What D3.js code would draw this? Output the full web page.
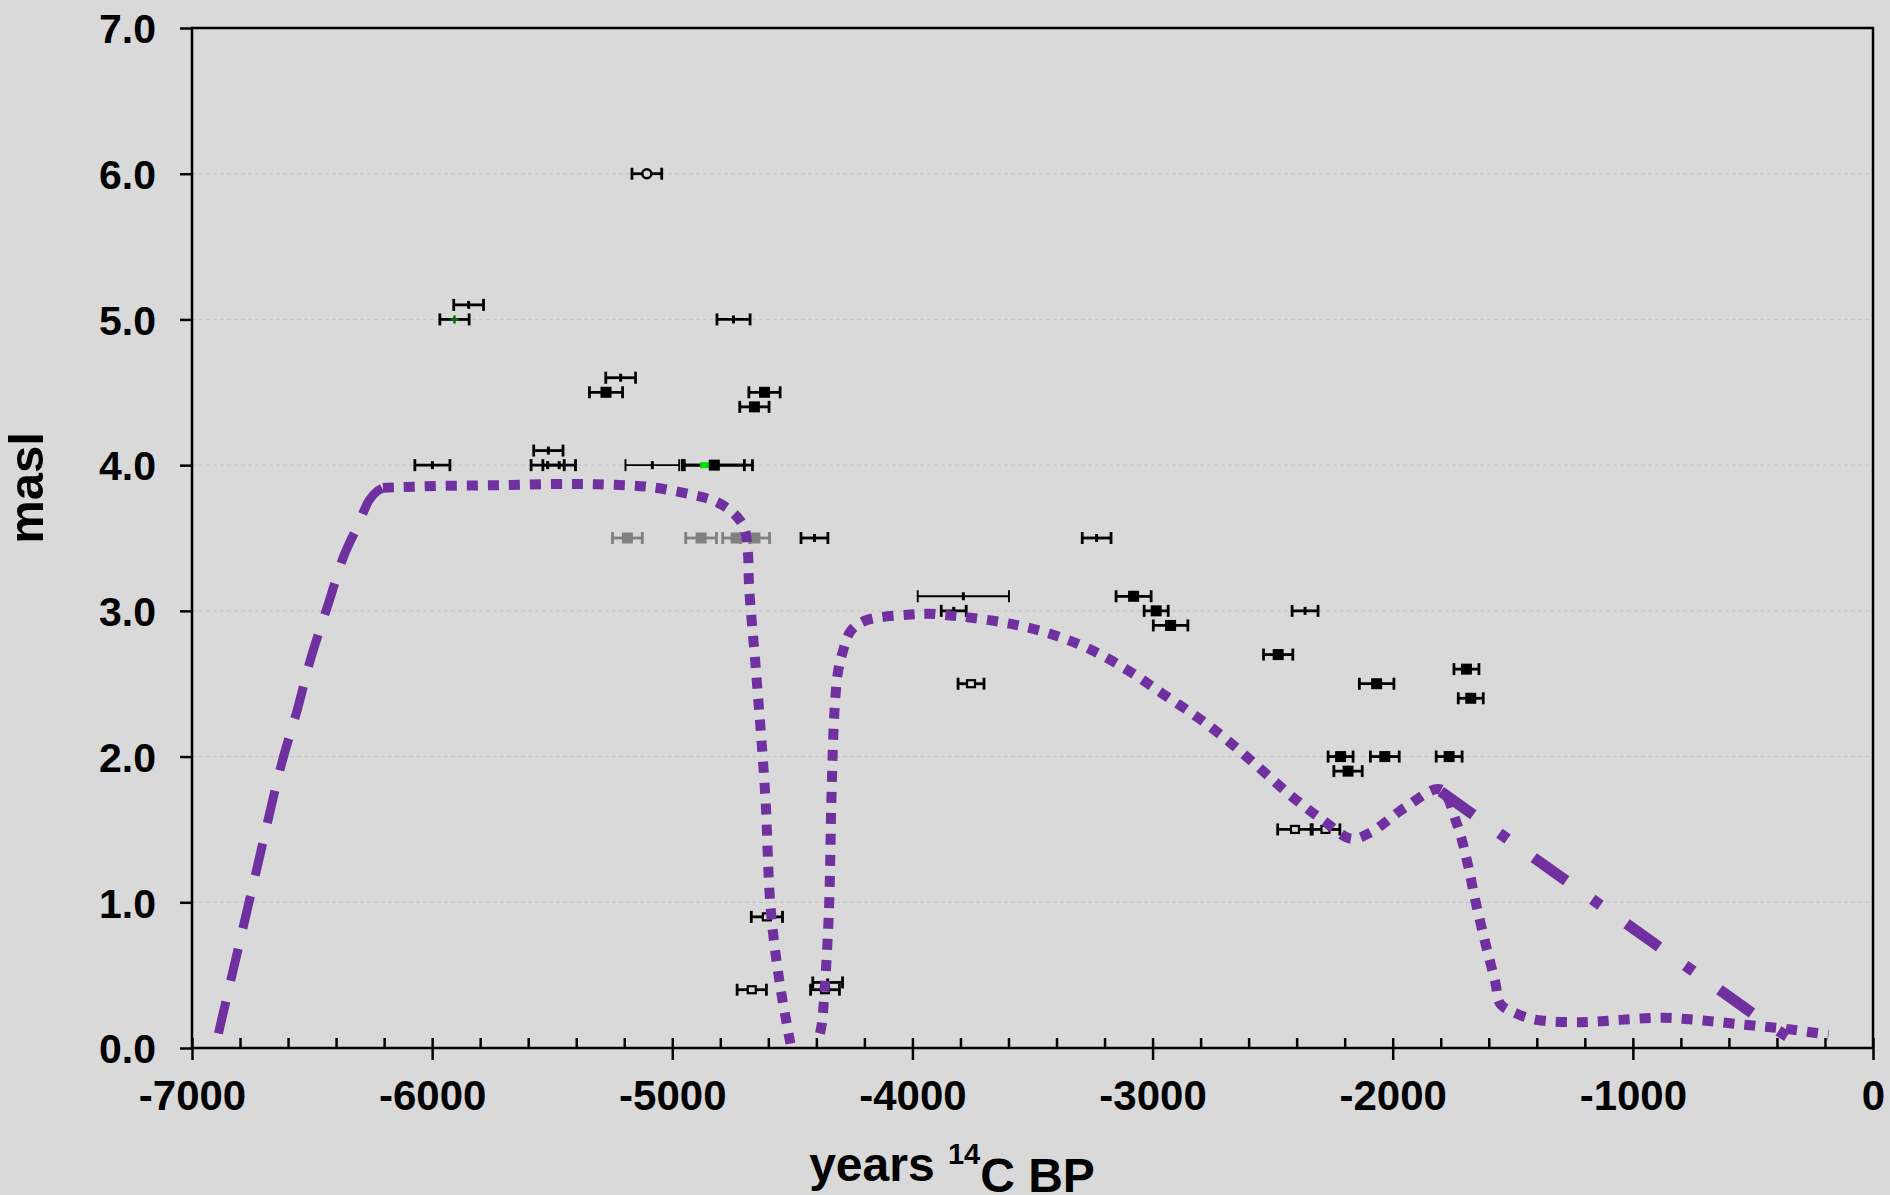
<!DOCTYPE html>
<html>
<head>
<meta charset="utf-8">
<script src="https://cdn.jsdelivr.net/npm/d3@7"></script>
<style>
  body { margin: 0; background: #d9d9d9; }
  svg { display: block; }
  text { font-family: "Liberation Sans", Arial, sans-serif; font-weight: bold; fill: #000; }
</style>
</head>
<body>
<svg id="chart" width="1890" height="1195"></svg>
<script>
// ticks
var xTicks = [-7000, -6000, -5000, -4000, -3000, -2000, -1000, 0];
var yTicks = [0, 1, 2, 3, 4, 5, 6, 7];

// dated samples: [age, masl, half error]
var filledPts = [
  [-5276, 4.5, 69], [-4616, 4.5, 65], [-4658, 4.4, 61], [-4825, 4.0, 125],
  [-3079, 3.1, 73], [-2985, 3.0, 50], [-2925, 2.9, 72], [-2477, 2.7, 61],
  [-2067, 2.5, 72], [-1693, 2.6, 52], [-1675, 2.4, 52], [-2217, 2.0, 52],
  [-2033, 2.0, 60], [-1765, 2.0, 54], [-2186, 1.9, 59]
];
var openPts = [
  [-3756, 2.5, 54], [-2407, 1.5, 72], [-2280, 1.5, 60],
  [-4606, 0.9, 65], [-4669, 0.4, 61], [-4364, 0.4, 60]
];
var circlePts = [[-5106, 6.0, 62]];
var tickPts = [
  [-5848, 5.1, 62], [-4745, 5.0, 69], [-5215, 4.6, 62], [-5999, 4.0, 73],
  [-5516, 4.1, 61], [-5519, 4.0, 69], [-5471, 4.0, 68], [-4812, 4.0, 146],
  [-4408, 3.5, 56], [-3233, 3.5, 60], [-3828, 3.0, 52], [-2365, 3.0, 54],
  [-4353, 0.45, 62]
];
var longPts = [[-5083, 4.0, 112], [-3788, 3.1, 190]];
var grayPts = [[-5187, 3.5, 62], [-4880, 3.5, 64], [-4734, 3.5, 56], [-4656, 3.5, 61]];
var greenPts = [[-5907, 5.0, 61]];
var greenDot = [[-4863, 4.0]];

// sea level curves: [age, masl]
var dashedLine = [
  [-6890, 0.1], [-6832, 0.51], [-6730, 1.23], [-6627, 1.95], [-6560, 2.33],
  [-6506, 2.67], [-6432, 3.05], [-6367, 3.38], [-6311, 3.58], [-6262, 3.76],
  [-6230, 3.82], [-6205, 3.844]
];
var dottedLine1 = [
  [-6205, 3.844], [-6135, 3.849], [-5967, 3.857], [-5707, 3.863], [-5428, 3.871],
  [-5261, 3.866], [-5093, 3.85], [-4926, 3.80], [-4833, 3.76], [-4759, 3.69],
  [-4703, 3.58], [-4686, 3.42], [-4680, 3.16], [-4651, 2.58], [-4613, 1.74],
  [-4591, 0.97], [-4554, 0.46], [-4508, 0.03]
];
var dottedLine2 = [
  [-4385, 0.1], [-4377, 0.17], [-4349, 0.89], [-4337, 1.73], [-4325, 2.30],
  [-4310, 2.58], [-4290, 2.72], [-4257, 2.862], [-4195, 2.934], [-4023, 2.973],
  [-3933, 2.98], [-3843, 2.968], [-3752, 2.952], [-3590, 2.911], [-3427, 2.843],
  [-3265, 2.74], [-3102, 2.591], [-2958, 2.431], [-2813, 2.27], [-2687, 2.11],
  [-2551, 1.916], [-2425, 1.733], [-2289, 1.561], [-2172, 1.436], [-2091, 1.481],
  [-1946, 1.653], [-1802, 1.775], [-1733, 1.539], [-1691, 1.287], [-1656, 1.012],
  [-1615, 0.726], [-1573, 0.452], [-1552, 0.303], [-1483, 0.235], [-1400, 0.193],
  [-1219, 0.177], [-1053, 0.193], [-879, 0.207], [-706, 0.189], [-532, 0.159],
  [-365, 0.132], [-185, 0.09]
];
var dashDotLine = [[-1800, 1.76], [-435, 0.16], [-280, 0.0]];

var svg = d3.select("#chart");
var plotL = 192, plotR = 1873, plotT = 28, plotB = 1048;

var x = d3.scaleLinear().domain([-7000, 0]).range([plotL, plotR]);
var y = d3.scaleLinear().domain([0, 7]).range([plotB, plotT]);

// grid
svg.append("g")
  .selectAll("line")
  .data(yTicks.filter(function(d) { return d > 0 && d < 7; }))
  .enter().append("line")
    .attr("x1", plotL).attr("x2", plotR)
    .attr("y1", function(d) { return y(d); })
    .attr("y2", function(d) { return y(d); })
    .attr("stroke", "#c4c4c4")
    .attr("stroke-width", 1)
    .attr("stroke-dasharray", "4,3");

// frame
svg.append("rect")
  .attr("x", plotL).attr("y", plotT)
  .attr("width", plotR - plotL).attr("height", plotB - plotT)
  .attr("fill", "none").attr("stroke", "#000").attr("stroke-width", 2.5);

// y axis
var yAxis = svg.append("g")
  .attr("transform", "translate(" + plotL + ",0)")
  .call(d3.axisLeft(y).tickValues(yTicks).tickSize(12).tickPadding(24)
    .tickFormat(d3.format(".1f")));
yAxis.select(".domain").remove();
yAxis.selectAll("line").attr("stroke-width", 2.5);
yAxis.selectAll("text").style("font-size", "41px").attr("dy", "0.36em");

// x axis
var xAxis = svg.append("g")
  .attr("transform", "translate(0," + plotB + ")")
  .call(d3.axisBottom(x).tickValues(xTicks).tickSize(12).tickPadding(20)
    .tickFormat(function(d) { return String(d); }));
xAxis.select(".domain").remove();
xAxis.selectAll("line").attr("stroke-width", 2.5);
xAxis.selectAll("text").style("font-size", "42px");

// minor ticks inside
var minor = d3.range(-7000, 1, 200);
var xMinor = svg.append("g")
  .attr("transform", "translate(0," + plotB + ")")
  .call(d3.axisBottom(x).tickValues(minor).tickSize(-10).tickFormat(""));
xMinor.select(".domain").remove();
xMinor.selectAll("line").attr("stroke-width", 2.5);

// axis titles
svg.append("text")
  .attr("transform", "translate(43,488) rotate(-90)")
  .attr("text-anchor", "middle")
  .style("font-size", "49px")
  .text("masl");

var xt = svg.append("text")
  .attr("x", 952).attr("y", 1181)
  .attr("text-anchor", "middle")
  .style("font-size", "48px");
xt.append("tspan").text("years ");
xt.append("tspan").attr("dy", "-0.6em").style("font-size", "29px").text("14");
xt.append("tspan").attr("dy", "0.6em").text("C BP");

// error bars
var pts = svg.append("g");

function errBars(data, color, width) {
  var g = pts.append("g").attr("stroke", color).attr("stroke-width", width);
  data.forEach(function(d) {
    var cy = y(d[1]);
    g.append("line").attr("x1", x(d[0] - d[2])).attr("x2", x(d[0] + d[2]))
      .attr("y1", cy).attr("y2", cy);
    [d[0] - d[2], d[0] + d[2]].forEach(function(e) {
      g.append("line").attr("x1", x(e)).attr("x2", x(e))
        .attr("y1", cy - 6).attr("y2", cy + 6);
    });
  });
}

errBars(grayPts, "#808080", 2.8);
errBars(tickPts, "#000", 2.8);
errBars(longPts, "#000", 1.9);
errBars(filledPts, "#000", 2.8);
errBars(openPts, "#000", 2.8);
errBars(circlePts, "#000", 2.8);
errBars(greenPts, "#000", 2.8);

pts.selectAll(".gdot").data(greenDot).enter().append("rect")
  .attr("x", function(d) { return x(d[0]) - 5; })
  .attr("y", function(d) { return y(d[1]) - 3; })
  .attr("width", 10).attr("height", 6)
  .attr("fill", "#00e000");

pts.selectAll(".gray").data(grayPts).enter().append("rect")
  .attr("x", function(d) { return x(d[0]) - 5.5; })
  .attr("y", function(d) { return y(d[1]) - 5.5; })
  .attr("width", 11).attr("height", 11)
  .attr("fill", "#808080");

pts.selectAll(".filled").data(filledPts).enter().append("rect")
  .attr("x", function(d) { return x(d[0]) - 5.5; })
  .attr("y", function(d) { return y(d[1]) - 5.5; })
  .attr("width", 11).attr("height", 11)
  .attr("fill", "#000");

pts.selectAll(".open").data(openPts).enter().append("rect")
  .attr("x", function(d) { return x(d[0]) - 4; })
  .attr("y", function(d) { return y(d[1]) - 3.5; })
  .attr("width", 8).attr("height", 7)
  .attr("fill", "#d9d9d9").attr("stroke", "#000").attr("stroke-width", 2.2);

pts.selectAll(".circ").data(circlePts).enter().append("circle")
  .attr("cx", function(d) { return x(d[0]); })
  .attr("cy", function(d) { return y(d[1]); })
  .attr("r", 4.5)
  .attr("fill", "#d9d9d9").attr("stroke", "#000").attr("stroke-width", 2.4);

pts.selectAll(".tick").data(tickPts.concat(longPts)).enter().append("line")
  .attr("x1", function(d) { return x(d[0]); })
  .attr("x2", function(d) { return x(d[0]); })
  .attr("y1", function(d) { return y(d[1]) - 4; })
  .attr("y2", function(d) { return y(d[1]) + 4; })
  .attr("stroke", "#000").attr("stroke-width", 3);

pts.selectAll(".green").data(greenPts).enter().append("path")
  .attr("d", function(d) {
    var cx = x(d[0]), cy = y(d[1]);
    return "M" + (cx - 4) + "," + cy + "H" + (cx + 4) + "M" + cx + "," + (cy - 4) + "V" + (cy + 4);
  })
  .attr("stroke", "#0a6a0a").attr("stroke-width", 2.5);

// curves
var line = d3.line()
  .x(function(d) { return x(d[0]); })
  .y(function(d) { return y(d[1]); })
  .curve(d3.curveCatmullRom.alpha(0.5));

var purple = "#7030a0";

svg.append("path").datum(dashedLine)
  .attr("d", line).attr("fill", "none")
  .attr("stroke", purple).attr("stroke-width", 9)
  .attr("stroke-dasharray", "33,21");

[dottedLine1, dottedLine2].forEach(function(data) {
  svg.append("path").datum(data)
    .attr("d", line).attr("fill", "none")
    .attr("stroke", purple).attr("stroke-width", 10)
    .attr("stroke-dasharray", "11,10");
});

svg.append("path").datum(dashDotLine)
  .attr("d", d3.line().x(function(d) { return x(d[0]); }).y(function(d) { return y(d[1]); }))
  .attr("fill", "none")
  .attr("stroke", purple).attr("stroke-width", 11)
  .attr("stroke-dasharray", "40,32,10,32");
</script>
</body>
</html>
